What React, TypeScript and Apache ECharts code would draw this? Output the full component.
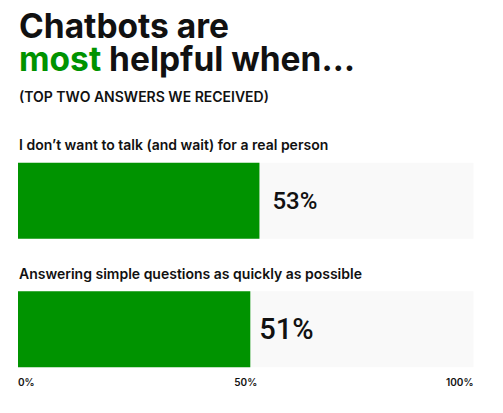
import React, { useEffect, useRef } from "react";
import * as echarts from "echarts";

const categories = [
  "I don\u2019t want to talk (and wait) for a real person",
  "Answering simple questions as quickly as possible",
];
const values = [53, 51];
const fullValues = [100, 100];
const xTicks = [0, 50, 100];

const FONT = "Inter, 'Liberation Sans', sans-serif";
const NUM_FONT = "Roboto, 'Liberation Sans', sans-serif";
const GREEN = "#009300";

export default function App() {
  const ref = useRef<HTMLDivElement>(null);
  useEffect(() => {
    if (!ref.current) return;
    const chart = echarts.init(ref.current, undefined, { renderer: "svg" });
    const valueLabelSizes = [24, 29];
    const valueLabelDist = [13, 9];
    chart.setOption({
      animation: false,
      backgroundColor: "#ffffff",
      textStyle: { fontFamily: FONT },
      title: [
        {
          left: 14,
          top: 5,
          text: "Chatbots are",
          textStyle: { fontFamily: FONT, fontSize: 33.5, fontWeight: 700, color: "#111111", lineHeight: 32 },
        },
        {
          left: 14,
          top: 38,
          text: "{g|most}{a| helpful when\u2026}",
          textStyle: {
            rich: {
              a: { fontFamily: FONT, fontSize: 33.5, fontWeight: 700, color: "#111111", lineHeight: 32 },
              g: { fontFamily: FONT, fontSize: 33.5, fontWeight: 700, color: GREEN, lineHeight: 32 },
            },
          },
        },
        {
          left: 14,
          top: 84,
          text: "(TOP TWO ANSWERS WE RECEIVED)",
          textStyle: { fontFamily: FONT, fontSize: 14, fontWeight: 600, color: "#111111" },
        },
      ],
      grid: { left: 18, right: 29.5, top: 136.5, bottom: 19.5 },
      xAxis: {
        type: "value",
        min: 0,
        max: 100,
        interval: 50,
        offset: -25,
        splitLine: { show: false },
        axisLine: { show: false },
        axisTick: { show: false },
        axisLabel: {
          formatter: (v: number) => (xTicks.includes(v) ? v + "%" : ""),
          alignMinLabel: "left",
          alignMaxLabel: "right",
          fontFamily: FONT,
          fontSize: 10,
          fontWeight: 600,
          color: "#111111",
          showMinLabel: true,
          showMaxLabel: true,
        },
      },
      yAxis: {
        type: "category",
        data: categories,
        inverse: true,
        show: false,
      },
      series: [
        {
          type: "bar",
          data: fullValues,
          barWidth: 76,
          barGap: "-100%",
          silent: true,
          itemStyle: { color: "#f9f9f9" },
          label: {
            show: true,
            position: [1, -18],
            align: "left",
            verticalAlign: "middle",
            formatter: (p: any) => categories[p.dataIndex],
            fontFamily: FONT,
            fontSize: 14,
            fontWeight: 600,
            color: "#111111",
          },
          z: 1,
        },
        {
          type: "bar",
          data: values.map((v, i) => ({
            value: v,
            label: { fontSize: valueLabelSizes[i], distance: valueLabelDist[i] },
          })),
          barWidth: 76,
          itemStyle: { color: GREEN },
          label: {
            show: true,
            position: "right",
            formatter: (p: any) => p.value + "%",
            fontFamily: NUM_FONT,
            fontWeight: 500,
            color: "#111111",
          },
          z: 2,
        },
      ],
    });
    return () => chart.dispose();
  }, []);
  return (
    <div
      ref={ref}
      style={{ position: "fixed", left: 0, top: 0, width: 503, height: 413 }}
    />
  );
}
